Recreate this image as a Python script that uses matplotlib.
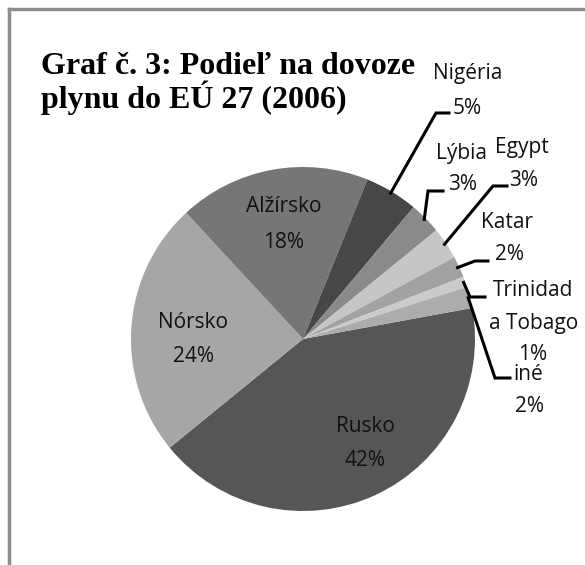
import matplotlib.pyplot as plt
from matplotlib.lines import Line2D
import numpy as np

# podiel krajin na dovoze plynu do EU 27 v roku 2006 (%)
krajiny = ['Rusko', 'Nórsko', 'Alžírsko', 'Nigéria', 'Lýbia', 'Egypt', 'Katar',
           'Trinidad\na Tobago', 'iné']
podiel = [42, 24, 18, 5, 3, 3, 2, 1, 2]
farby = ['#565656', '#a6a6a6', '#767676', '#474747', '#8a8a8a', '#c6c6c6',
         '#a2a2a2', '#cbcbcb', '#acacac']

W, H = 585, 565
CX, CY, R = 303, 339, 172


def px(x, y):
    # pixel position -> pie data coordinates (radius 1)
    return (x - CX) / R, (CY - y) / R


fig = plt.figure(figsize=(W / 100, H / 100), dpi=100)
ax = fig.add_axes([(CX - R) / W, (H - CY - R) / H, 2 * R / W, 2 * R / H])
wedges, _ = ax.pie(podiel, colors=farby, startangle=10.4, counterclock=False,
                   radius=1, wedgeprops=dict(linewidth=0))
ax.set_xlim(-1, 1)
ax.set_ylim(-1, 1)
ax.axis('off')

# ramcek grafu (vidno len lavu a hornu hranu)
fig.add_artist(Line2D([9 / W, 9 / W], [0, 1 - 9 / H], transform=fig.transFigure,
                      color='#8c8c8c', lw=2.5))
fig.add_artist(Line2D([9 / W, 1], [1 - 9 / H, 1 - 9 / H], transform=fig.transFigure,
                      color='#8c8c8c', lw=2.5))

nadpis = dict(family='Liberation Serif', weight='bold', fontsize=23,
              va='baseline', ha='left')
fig.text(41 / W, 1 - 74 / H, 'Graf č. 3: Podieľ na dovoze', **nadpis)
fig.text(41 / W, 1 - 108 / H, 'plynu do EÚ 27 (2006)', **nadpis)

lbl = dict(family='Open Sans', fontsize=15, ha='center', va='center',
           color='#111111')

# stredy riadkov popisov v pixeloch
riadky = {
    0: [(365, 427), (365, 460)],
    1: [(193, 322), (193, 356)],
    2: [(284, 207), (284, 242)],
    3: [(468, 74), (467, 109)],
    4: [(462, 153), (463, 184)],
    5: [(522, 148), (524, 181)],
    6: [(507, 222), (509, 255)],
    7: [(533, 290), (534, 324), (533, 355)],
    8: [(528, 375), (529, 407)],
}
for i, pozicie in riadky.items():
    texty = krajiny[i].split('\n') + [f'{podiel[i]}%']
    for t, (x, y) in zip(texty, pozicie):
        ax.text(*px(x, y), t, **lbl)

# odkazove ciary: lakt ciary a koniec vodorovnej casti
odkazy = {
    3: ((436, 113), (449, 113)),
    4: ((428, 191), (443, 191)),
    5: ((493, 186), (507, 186)),
    6: ((475, 261), (488, 261)),
    7: ((470, 297), (485, 297)),
    8: ((495, 378), (510, 378)),
}
for i, ((ex, ey), (hx, hy)) in odkazy.items():
    w = wedges[i]
    mid = np.deg2rad((w.theta1 + w.theta2) / 2)
    x0, y0 = np.cos(mid) * 0.99, np.sin(mid) * 0.99
    x1, y1 = px(ex, ey)
    x2, y2 = px(hx, hy)
    ax.plot([x0, x1, x2], [y0, y1, y2], color='black', lw=2.2, clip_on=False,
            solid_joinstyle='miter')

fig.savefig('out.png', dpi=100, facecolor='white')
